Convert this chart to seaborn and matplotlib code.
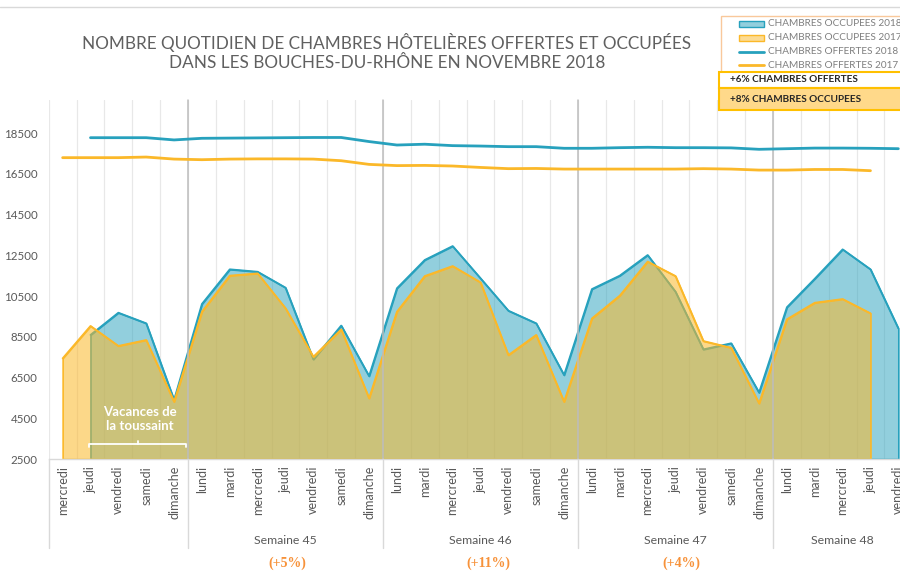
import numpy as np
import pandas as pd
import matplotlib
matplotlib.use("Agg")
import matplotlib.pyplot as plt
import matplotlib.transforms as mtransforms
from matplotlib.patches import Rectangle
from matplotlib.lines import Line2D
from matplotlib.colors import to_rgba
import seaborn as sns

nan = np.nan

# ---------------- data ----------------
days = (["mercredi", "jeudi", "vendredi", "samedi", "dimanche"]
        + ["lundi", "mardi", "mercredi", "jeudi", "vendredi", "samedi", "dimanche"] * 3
        + ["lundi", "mardi", "mercredi", "jeudi", "vendredi"])
week_labels = ["Semaine 45", "Semaine 46", "Semaine 47", "Semaine 48"]
week_label_pos = [8, 15, 22, 28]
week_variation = ["(+5%)", "(+11%)", "(+4%)"]
week_variation_pos = [8.05, 15.3, 22.2]
week_bounds = [4.5, 11.5, 18.5, 25.5]

occ_2018 = np.array([nan, 8590, 9680, 9160, 5400, 10110, 11810, 11690, 10910, 7390,
                     9050, 6570, 10880, 12270, 12950, 11370, 9780, 9160, 6620, 10840,
                     11500, 12510, 10710, 7880, 8180, 5760, 9950, 11350, 12790, 11810, 8910])
occ_2017 = np.array([7440, 9030, 8050, 8340, 5310, 9730, 11500, 11610, 9900, 7520,
                     8860, 5480, 9730, 11480, 11970, 11170, 7600, 8590, 5310, 9400,
                     10520, 12190, 11480, 8290, 7960, 5230, 9360, 10170, 10350, 9650, nan])
off_2018 = np.array([nan, 18270, 18270, 18270, 18160, 18240, 18250, 18260, 18270, 18280,
                     18280, 18080, 17910, 17950, 17880, 17860, 17830, 17830, 17750, 17750,
                     17780, 17800, 17780, 17780, 17770, 17700, 17730, 17760, 17760, 17750, 17730])
off_2017 = np.array([17290, 17290, 17290, 17320, 17220, 17190, 17220, 17230, 17230, 17220,
                     17140, 16960, 16900, 16910, 16880, 16810, 16750, 16760, 16730, 16730,
                     16730, 16730, 16730, 16750, 16730, 16680, 16680, 16710, 16710, 16650, nan])
yticks = list(range(2500, 18501, 2000))

legend_labels = ["CHAMBRES OCCUPEES 2018", "CHAMBRES OCCUPEES 2017",
                 "CHAMBRES OFFERTES 2018", "CHAMBRES OFFERTES 2017"]
box_texts = ["+6% CHAMBRES OFFERTES", "+8% CHAMBRES OCCUPEES"]
title_lines = ["NOMBRE QUOTIDIEN DE CHAMBRES HÔTELIÈRES OFFERTES ET OCCUPÉES",
               "DANS LES BOUCHES-DU-RHÔNE EN NOVEMBRE 2018"]

# ---------------- style ----------------
sns.set_theme(style="white")
plt.rcParams['font.family'] = ['Lato', 'DejaVu Sans']

BLUE = "#27A1BD"
ORANGE = "#FBB829"
GREY_TXT = "#595959"

W, H = 900, 577
fig = plt.figure(figsize=(9, 5.77), dpi=100)


def fx(px):
    return px / W


def fy(py):
    return 1 - py / H


ax = fig.add_axes([fx(48.7), fy(459), 1 - fx(48.7), (459 - 100) / H])
x = np.arange(len(days))
df = pd.DataFrame({"x": x, "occ_2018": occ_2018, "occ_2017": occ_2017,
                   "off_2018": off_2018, "off_2017": off_2017})

# light category grid
for b in np.arange(-0.5, len(days), 1.0):
    ax.axvline(b, color="#E8E8E8", lw=0.9, zorder=0.5)

# week separators (inside plot and down through the label area)
trans = mtransforms.blended_transform_factory(ax.transData, ax.transAxes)
y_low = (459 - 548) / 359
for b in week_bounds:
    ax.plot([b, b], [0, 1], transform=trans, color="#BDBDBD", lw=1.1, zorder=1.5, clip_on=False)
for b in [-0.5] + week_bounds:
    ax.plot([b, b], [y_low, 0], transform=trans, color="#D9D9D9", lw=1.0, zorder=1.5, clip_on=False)

# areas
m18 = ~np.isnan(occ_2018)
ax.fill_between(x[m18], 2500, occ_2018[m18], facecolor=to_rgba(BLUE, 0.5),
                edgecolor=BLUE, lw=1.2, zorder=1.0)
sns.lineplot(data=df, x="x", y="occ_2018", color=BLUE, lw=1.3, ax=ax, zorder=1.1)
m17 = ~np.isnan(occ_2017)
ax.fill_between(x[m17], 2500, occ_2017[m17], facecolor=to_rgba(ORANGE, 0.55),
                edgecolor=ORANGE, lw=1.2, zorder=1.2)
sns.lineplot(data=df, x="x", y="occ_2017", color=ORANGE, lw=1.3, ax=ax, zorder=1.3)

# offered lines
sns.lineplot(data=df, x="x", y="off_2018", color=BLUE, lw=2.0, ax=ax, zorder=3)
sns.lineplot(data=df, x="x", y="off_2017", color=ORANGE, lw=2.0, ax=ax, zorder=3)

ax.set_xlim(-0.5, 30.06)
ax.set_ylim(2500, 20120)
ax.set_yticks(yticks)
ax.set_yticklabels([str(v) for v in yticks])
ax.set_xticks(x)
ax.set_xticklabels(days, rotation=90, va="top", ha="center")
ax.tick_params(axis="y", length=0, pad=8, labelsize=8.3, labelcolor=GREY_TXT)
ax.tick_params(axis="x", length=0, pad=5, labelsize=9, labelcolor=GREY_TXT)
ax.set_xlabel("")
ax.set_ylabel("")
for s in ["top", "right", "left"]:
    ax.spines[s].set_visible(False)
ax.spines["bottom"].set_color("#D9D9D9")
ax.spines["bottom"].set_linewidth(1.0)

# week labels and variations
for lab, p in zip(week_labels, week_label_pos):
    ax.text(p, (459 - 541) / 359, lab, transform=trans, ha="center", va="center",
            fontsize=8.8, color=GREY_TXT)
for lab, p in zip(week_variation, week_variation_pos):
    ax.text(p, (459 - 563) / 359, lab, transform=trans, ha="center", va="center",
            fontsize=10, color="#F7923A", fontweight="bold", family=["Liberation Serif"])

# vacances annotation
ax.text(2.78, 4460, "Vacances de\nla toussaint", ha="center", va="center", color="white",
        fontweight="bold", fontsize=9.5, linespacing=1.15, zorder=4)
ax.plot([0.95, 0.95, 4.43, 4.43], [3090, 3236, 3236, 3090], color="white", lw=1.3, zorder=4)
ax.plot([2.71, 2.71], [3236, 3383], color="white", lw=1.3, zorder=4)

# title
fig.text(fx(387), fy(43), title_lines[0], ha="center", va="center", fontsize=12.3,
         color="#606060")
fig.text(fx(387), fy(63), title_lines[1], ha="center", va="center", fontsize=12.3,
         color="#606060")

# top rule
fig.add_artist(Line2D([0, 1], [fy(7), fy(7)], color="#D9D9D9", lw=1.0, transform=fig.transFigure))

# legend (manual)
fig.add_artist(Rectangle((fx(721), fy(72)), fx(190), (72 - 16) / H, transform=fig.transFigure,
                         facecolor="white", edgecolor="#F9C89B", lw=1.0, zorder=5))
rows = [24, 38, 52, 65]
for i, (lab, r) in enumerate(zip(legend_labels, rows)):
    if i < 2:
        c = BLUE if i == 0 else ORANGE
        fig.add_artist(Rectangle((fx(739), fy(r + 3)), fx(25), 6 / H, transform=fig.transFigure,
                                 facecolor=to_rgba(c, 0.5), edgecolor=c, lw=1.0, zorder=6))
    else:
        c = BLUE if i == 2 else ORANGE
        fig.add_artist(Line2D([fx(739), fx(764)], [fy(r), fy(r)], color=c, lw=2.0,
                              transform=fig.transFigure, zorder=6))
    fig.text(fx(768), fy(r), lab, ha="left", va="center", fontsize=7.2, color="#7F7F7F", zorder=7)

fig.add_artist(Rectangle((fx(719), fy(88)), fx(190), 16 / H, transform=fig.transFigure,
                         facecolor="white", edgecolor="#FFC000", lw=1.5, zorder=8))
fig.text(fx(730), fy(80), box_texts[0], ha="left", va="center", fontsize=7.2,
         color="#262626", fontweight="bold", zorder=9)
fig.add_artist(Rectangle((fx(719), fy(110)), fx(190), 22 / H, transform=fig.transFigure,
                         facecolor="#FFD98A", edgecolor="#FFC000", lw=1.5, zorder=8))
fig.text(fx(730), fy(99), box_texts[1], ha="left", va="center", fontsize=7.2,
         color="#262626", fontweight="bold", zorder=9)

fig.savefig("out.png", dpi=100)
